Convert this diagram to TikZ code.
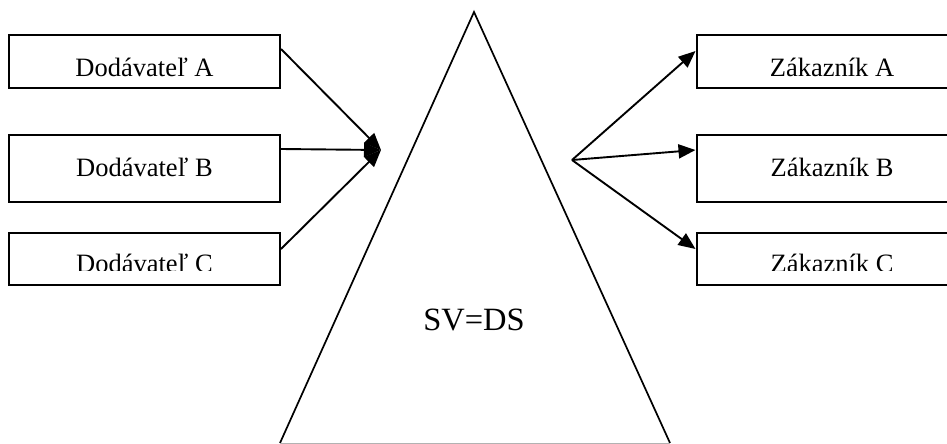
\documentclass[tikz,border=0pt]{standalone}
\usepackage{fontspec}
\setmainfont{Liberation Serif}
\usepackage{tikz}
\usetikzlibrary{arrows.meta,positioning,calc}
\tikzset{
    block/.style={rectangle, draw, line width=2pt, minimum width=271pt, inner sep=0pt},
    boxtext/.style={anchor=base, inner sep=0pt, font=\fontsize{26.5}{30}\selectfont},
    line/.style={draw, line width=1.9pt, -{Triangle[length=17pt,width=14pt]}},
    hill/.style={draw, line width=1.7pt}
}

\begin{document}
\begin{tikzpicture}[x=1pt, y=-1pt]
    \clip (0,0) rectangle (947,444);

    % Suppliers on the left
    \node [block, minimum height=53pt] (supA) at (144.5,61.5) {};
    \node [boxtext] (supAtext) at ([yshift=-42pt]supA.north) {Dodávateľ A};

    \node [block, minimum height=67pt] (supB) at (144.5,168.5) {};
    \node [boxtext] (supBtext) at ([yshift=-42pt]supB.north) {Dodávateľ B};

    \node [block, minimum height=52pt] (supC) at (144.5,259) {};
    \begin{scope}
        \clip (supC.north west) rectangle ([yshift=-38pt]supC.north east);
        \node [boxtext] (supCtext) at ([yshift=-40pt]supC.north) {Dodávateľ C};
    \end{scope}

    % Customers on the right
    \node [block, minimum height=53pt] (cusA) at (832,61.5) {};
    \node [boxtext] (cusAtext) at ([yshift=-42pt]cusA.north) {Zákazník A};

    \node [block, minimum height=67pt] (cusB) at (832,168.5) {};
    \node [boxtext] (cusBtext) at ([yshift=-42pt]cusB.north) {Zákazník B};

    \node [block, minimum height=52pt] (cusC) at (832,259) {};
    \begin{scope}
        \clip (cusC.north west) rectangle ([yshift=-38pt]cusC.north east);
        \node [boxtext] (cusCtext) at ([yshift=-40pt]cusC.north) {Zákazník C};
    \end{scope}

    % The triangle
    \coordinate (apex) at (474,12);
    \coordinate (baseL) at (280,443);
    \coordinate (baseR) at (670,443);
    \draw [hill] (baseL) -- (apex) -- (baseR);
    \draw [gray!60, line width=1pt] (baseL) -- (baseR);
    \node [anchor=base, inner sep=0pt, font=\fontsize{32.5}{36}\selectfont] (svds) at (474,330) {SV=DS};

    % Connections
    \coordinate (hub) at (381,150);
    \coordinate (src) at (572,160);
    \path [line] ([yshift=-15pt]supA.north east) -- (hub);
    \path [line] ([yshift=-15pt]supB.north east) -- (hub);
    \path [line] ([yshift=-17pt]supC.north east) -- (hub);
    \path [line] (src) -- ([yshift=-17pt]cusA.north west);
    \path [line] (src) -- ([yshift=-16pt]cusB.north west);
    \path [line] (src) -- ([yshift=-17pt]cusC.north west);
\end{tikzpicture}
\end{document}
